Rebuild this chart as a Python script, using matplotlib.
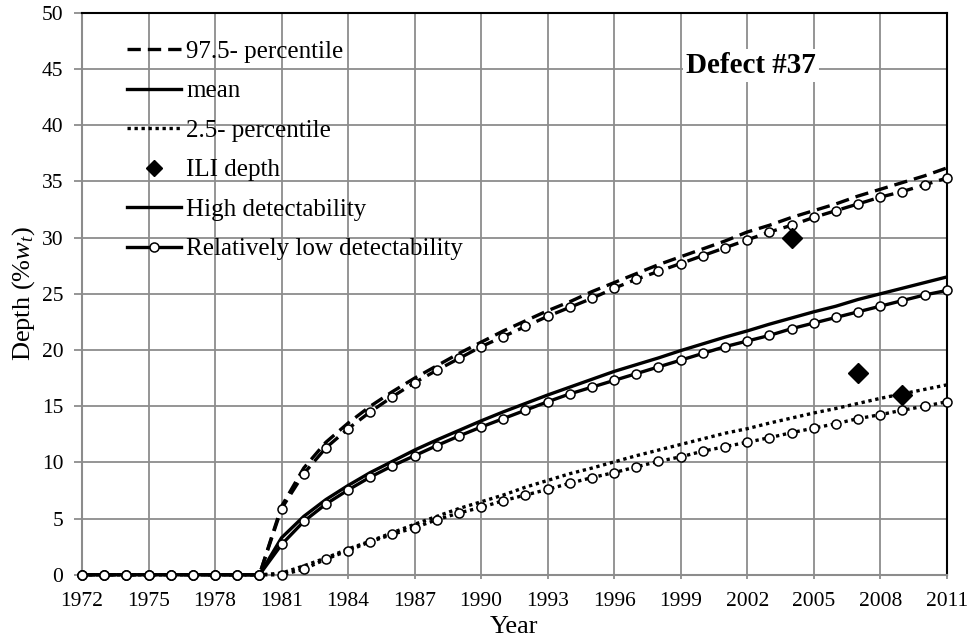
import numpy as np
import matplotlib
matplotlib.use('Agg')
import matplotlib.pyplot as plt
from matplotlib.lines import Line2D

plt.rcParams['font.family'] = ['Liberation Serif', 'DejaVu Serif']
plt.rcParams['mathtext.fontset'] = 'custom'
plt.rcParams['mathtext.rm'] = 'Liberation Serif'
plt.rcParams['mathtext.it'] = 'Liberation Serif:italic'

# ── Data: depth growth of defect #37 (% of wall thickness) ────────────
years = np.arange(1972, 2012)

# high detectability
hi_p975 = [0, 0, 0, 0, 0, 0, 0, 0, 0,
           6.1, 9.5, 11.8, 13.5, 15.0, 16.3, 17.5, 18.6, 19.7, 20.7,
           21.7, 22.6, 23.5, 24.3, 25.2, 26.0, 26.8, 27.6, 28.3, 29.0,
           29.7, 30.5, 31.1, 31.8, 32.4, 33.0, 33.7, 34.3, 34.9, 35.5, 36.2]
hi_mean = [0, 0, 0, 0, 0, 0, 0, 0, 0,
           3.3, 5.2, 6.7, 7.95, 9.1, 10.1, 11.1, 12.0, 12.85, 13.7,
           14.5, 15.25, 16.0, 16.7, 17.4, 18.1, 18.7, 19.3, 19.95, 20.55,
           21.15, 21.7, 22.3, 22.85, 23.4, 23.9, 24.5, 25.0, 25.5, 26.0, 26.5]
hi_p025 = [0, 0, 0, 0, 0, 0, 0, 0, 0,
           0.15, 0.8, 1.5, 2.3, 3.0, 3.75, 4.5, 5.2, 5.9, 6.5,
           7.1, 7.8, 8.4, 9.0, 9.5, 10.05, 10.6, 11.1, 11.6, 12.1,
           12.6, 13.0, 13.5, 13.95, 14.4, 14.8, 15.25, 15.7, 16.1, 16.5, 16.9]

# relatively low detectability
lo_p975 = [0, 0, 0, 0, 0, 0, 0, 0, 0,
           5.9, 9.0, 11.3, 13.0, 14.5, 15.85, 17.1, 18.2, 19.25, 20.3,
           21.2, 22.1, 23.0, 23.8, 24.6, 25.5, 26.3, 27.0, 27.7, 28.4,
           29.1, 29.8, 30.5, 31.1, 31.8, 32.4, 33.0, 33.6, 34.1, 34.7, 35.3]
lo_mean = [0, 0, 0, 0, 0, 0, 0, 0, 0,
           2.7, 4.75, 6.3, 7.55, 8.7, 9.7, 10.6, 11.5, 12.35, 13.15,
           13.9, 14.65, 15.4, 16.1, 16.7, 17.3, 17.9, 18.5, 19.1, 19.7,
           20.3, 20.8, 21.3, 21.9, 22.4, 22.9, 23.4, 23.9, 24.4, 24.9, 25.3]
lo_p025 = [0, 0, 0, 0, 0, 0, 0, 0, 0,
           0, 0.5, 1.4, 2.15, 2.95, 3.6, 4.2, 4.9, 5.5, 6.0,
           6.6, 7.1, 7.6, 8.15, 8.65, 9.1, 9.6, 10.1, 10.5, 11.0,
           11.4, 11.8, 12.2, 12.65, 13.05, 13.45, 13.9, 14.25, 14.65, 15.0, 15.4]

ili_years = [2004, 2007, 2009]
ili_depth = [30, 18, 16]

# ── Figure ────────────────────────────────────────────────────────────
GRID = '#8c8c8c'
LW = 2.4
DASH = dict(ls=(0, (4.0, 2.1)))
DOT = dict(ls=(0, (1.0, 1.1)), dash_capstyle='butt')

fig = plt.figure(figsize=(9.72, 6.43), dpi=100)
ax = fig.add_axes([0.0844, 0.106, 0.8896, 0.874])

ax.plot(years, hi_p975, color='k', lw=LW, zorder=3, **DASH)
ax.plot(years, hi_mean, color='k', lw=LW, ls='-', zorder=3)
ax.plot(years, hi_p025, color='k', lw=LW, zorder=3, **DOT)

circ = dict(marker='o', ms=6.5, mfc='white', mec='k', mew=1.1,
            clip_on=False, zorder=4)
ax.plot(years, lo_p975, color='k', lw=LW, **DASH, **circ)
ax.plot(years, lo_mean, color='k', lw=LW, ls='-', **circ)
ax.plot(years, lo_p025, color='k', lw=LW, **DOT, **circ)

ax.plot(ili_years, ili_depth, ls='none', marker='D', ms=10, color='k',
        zorder=5)

ax.set_xlim(1972, 2011)
ax.set_ylim(0, 50)
ax.set_xticks(np.arange(1972, 2012, 3))
ax.set_yticks(np.arange(0, 51, 5))
ax.grid(True, color=GRID, lw=1.3)
ax.set_axisbelow(True)
ax.tick_params(labelsize=15.5, color=GRID, width=1.3)
ax.tick_params(axis='x', length=3, pad=9)
ax.tick_params(axis='y', length=6, pad=7.5)
for s in ('left', 'bottom'):
    ax.spines[s].set_color(GRID)
    ax.spines[s].set_linewidth(1.5)
for s in ('top', 'right'):
    ax.spines[s].set_color('k')
    ax.spines[s].set_linewidth(1.5)

ax.set_xlabel('Year', fontsize=19, labelpad=4)
ax.set_ylabel(r'Depth (%$w_t$)', fontsize=19, labelpad=3)

ax.text(2002.16, 45.3, 'Defect #37', fontsize=21, fontweight='bold',
        ha='center', va='center', zorder=6,
        bbox=dict(facecolor='white', edgecolor='none', pad=2))

handles = [
    Line2D([], [], color='k', lw=LW, **DASH),
    Line2D([], [], color='k', lw=LW, ls='-'),
    Line2D([], [], color='k', lw=LW, **DOT),
    Line2D([], [], color='k', ls='none', marker='D', ms=8),
    Line2D([], [], color='k', lw=LW, ls='-'),
    Line2D([], [], color='k', lw=LW, ls='-', marker='o', ms=6.5,
           mfc='white', mec='k', mew=1.1),
]
labels = ['97.5- percentile', 'mean', '2.5- percentile', 'ILI depth',
          'High detectability', 'Relatively low detectability']
leg = ax.legend(handles, labels, loc='upper left', fontsize=18,
                frameon=False, handlelength=2.16, handletextpad=0.2,
                labelspacing=0.68, borderaxespad=0.3,
                bbox_to_anchor=(0.032, 0.982))
leg.set_zorder(7)

fig.savefig('out.png', dpi=100)
